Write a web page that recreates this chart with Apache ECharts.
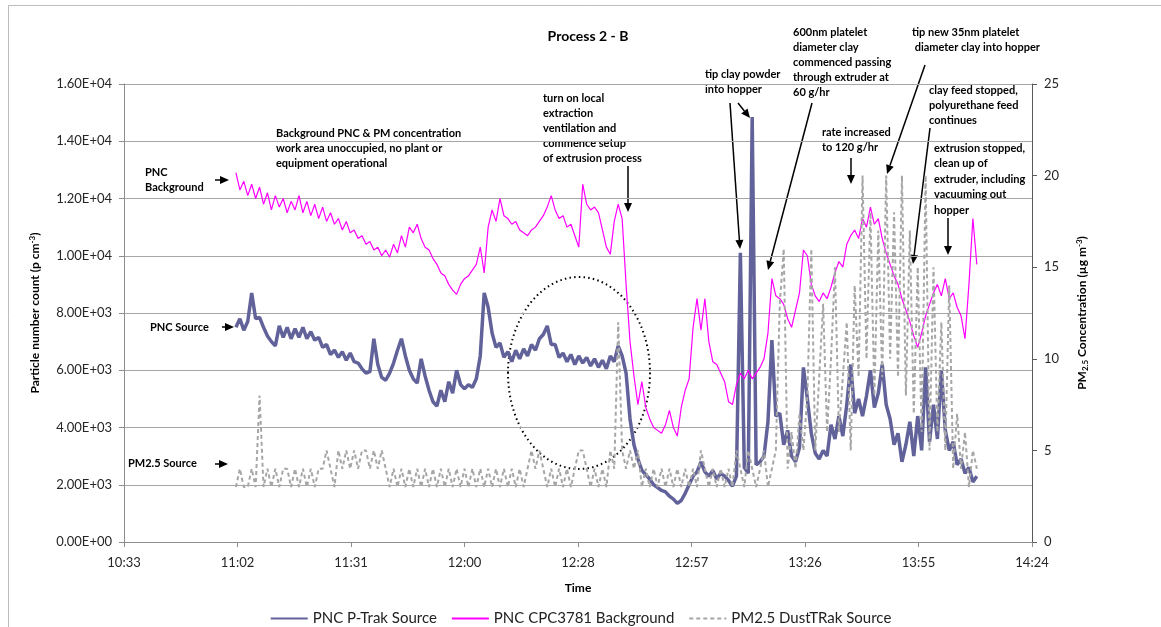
<!DOCTYPE html>
<html><head><meta charset="utf-8">
<script src="https://cdn.jsdelivr.net/npm/echarts@6/dist/echarts.min.js"></script>
<style>html,body{margin:0;padding:0;background:#fff}#c{width:1161px;height:627px}</style>
</head><body><div id="c"></div>
<script>
// ---- data (time in minutes after midnight, 1-minute samples starting at 11:02) ----
const startMinute = 662;
const stepMinutes = 1;
const xTickMin = 633.6, xTickMax = 864, xTickStep = 28.8; // 10:33 ... 14:24
const seriesNames = ['PNC P-Trak Source', 'PNC CPC3781 Background', 'PM2.5 DustTRak Source'];
// PNC P-Trak Source (p cm-3)
const ptrakSource = [
7500,7800,7400,7700,8700,7800,7850,7500,7200,7000,6850,7550,7150,7500,7100,7450,7150,7500,7100,7350,
7050,7150,6800,6900,6550,6700,6450,6650,6350,6600,6300,6250,6050,5900,5950,7100,6200,5750,5650,5900,
6250,6700,7100,6500,6000,5700,5550,6400,5800,5300,4900,4750,5300,4900,5600,5200,6000,5500,5350,5500,
5400,5700,6500,8700,8200,7300,6800,6950,6450,6650,6300,6700,6400,6750,6500,6900,6700,7100,7250,7550,
6900,6900,6450,6600,6300,6550,6200,6500,6250,6450,6150,6400,6100,6350,6050,6500,6300,6850,6500,5900,
4300,3400,2900,2500,2350,2200,2000,1900,1800,1750,1600,1500,1350,1450,1700,2000,2300,2450,2800,2450,
2300,2500,2200,2400,2300,2150,1950,2300,10100,2600,2400,14850,2700,2800,3000,4200,7050,4400,4500,3400,
3900,3000,2800,3300,6100,5000,3800,3100,2900,3200,3000,4100,3600,4400,3700,4800,6200,4500,5000,4400,
5100,6000,4700,5200,6200,4800,4300,3400,3800,2800,3400,4200,3000,4400,3200,6100,3500,4800,3600,6000,
3900,3200,3500,2700,2900,2400,2600,2100,2300
];
// PNC CPC3781 Background (p cm-3)
const cpcBackground = [
12900,12300,12600,12100,12500,12000,12400,11800,12200,11600,12100,11700,12000,11500,11900,11600,12100,11500,11900,11400,
11800,11300,11700,11200,11500,11100,11300,10900,11200,10800,10900,10600,10700,10400,10500,10200,10300,10000,10200,9950,
10400,10100,10700,10300,11000,10800,11100,10600,10300,10200,9900,9700,9400,9300,9000,8800,8650,9000,9200,9300,
9500,9700,10300,9400,11000,11600,11200,12000,11400,11300,11100,11200,10900,10800,10700,10900,11000,11200,11400,11700,
12100,11600,11300,11400,11000,11100,10700,10300,12500,11800,11600,11700,11500,10900,10300,10050,11200,11800,11300,9000,
7000,5800,4800,5600,4700,4300,4000,3900,3800,4100,4600,4000,3700,4700,5300,5700,7500,8500,7400,8500,
7000,6300,6200,5900,5600,4900,4800,5500,5900,5700,6000,5700,5900,6100,6400,7300,9200,8600,8500,8300,
7800,7500,8100,8700,10200,10000,9000,8600,8400,8700,8500,8900,9400,9800,9600,10400,10700,10900,10600,11300,
11000,11700,11100,11300,10600,10100,9700,9300,9000,8500,8100,7700,7200,6800,7300,7900,8300,8700,9000,8600,
9200,8500,8700,8200,7900,7100,9000,11300,9700
];
// PM2.5 DustTRak Source (ug m-3)
const dustTrakPM25 = [
3,4,3,3,4,3,8,3,4,3,4,3,4,4,3,4,3,4,3,4,
3,4,4,5,4,3,5,4,5,4,5,4,5,5,4,5,4,5,4,3,
4,3,4,3,4,3,4,3,4,3,4,3,4,3,4,3,4,3,4,3,
4,3,4,3,4,3,4,3,4,3,4,3,4,3,4,5,4,5,4,3,
4,3,4,3,4,3,4,5,5,4,3,4,3,4,3,5,4,12,5,4,
5,4,5,3,4,3,4,3,4,3,4,3,4,3,4,3,4,3,5,4,
3,4,3,4,3,4,3,5,4,3,5,4,3,4,5,3,4,5,13,16,
4,6,4,7,5,8,16,5,9,13,6,10,15,6,9,12,5,14,9,20,
10,18,8,17,9,20,10,18,9,20,8,17,7,15,6,20,5,15,6,12,
5,14,4,7,4,6,3,5,4
];
const leftTicks = {min: 0, max: 16000, interval: 2000};
const rightTicks = {min: 0, max: 25, interval: 5};

function toPairs(arr){ return arr.map((v,i)=>[startMinute + i*stepMinutes, v]); }
function sci(v){
  if (v === 0) return '0.00E+00';
  const e = Math.floor(Math.log10(v)); const m = v/Math.pow(10,e);
  return m.toFixed(2) + 'E+' + (e<10?'0':'') + e;
}
function hhmm(m){
  const r = Math.round(m*10)/10; const h = Math.floor(r/60); const mm = Math.floor(r - h*60 + 1e-6);
  return h + ':' + (mm<10?'0':'') + mm;
}
function arrow(x1,y1,x2,y2){
  const dx=x2-x1, dy=y2-y1, L=Math.hypot(dx,dy), ux=dx/L, uy=dy/L, hl=9, hw=4;
  const bx=x2-ux*hl, by=y2-uy*hl;
  return [
    {type:'line', silent:true, shape:{x1:x1,y1:y1,x2:bx,y2:by}, style:{stroke:'#000', lineWidth:1.5}},
    {type:'polygon', silent:true, shape:{points:[[x2,y2],[bx-uy*hw,by+ux*hw],[bx+uy*hw,by-ux*hw]]}, style:{fill:'#000'}}
  ];
}
const FONT = 'Lato, "Open Sans", sans-serif';
function note(x, y, text, lh){
  return {type:'text', silent:true, x:x, y:y, style:{text:text, fill:'#000', font:'bold 11px '+FONT, lineHeight:lh||15, textVerticalAlign:'top'}};
}

const graphics = [
  {type:'rect', silent:true, shape:{x:8.5, y:5.5, width:1200, height:700}, style:{fill:'none', stroke:'#bcbcbc', lineWidth:1}},
  {type:'ellipse', silent:true, shape:{cx:579, cy:373, rx:71, ry:96}, style:{fill:'none', stroke:'#000', lineWidth:2, lineDash:[1.5,3.2]}},
  {type:'text', silent:true, x:35, y:313, rotation:Math.PI/2, style:{
    rich:{b:{font:'bold 12px '+FONT, fill:'#000'}, sup:{font:'bold 8px '+FONT, fill:'#000', verticalAlign:'top', padding:[0,0,6,0]}},
    text:'{b|Particle number count (p cm}{sup|-3}{b|)}', align:'center', verticalAlign:'middle'}},
  {type:'text', silent:true, x:1082, y:313, rotation:Math.PI/2, style:{
    rich:{b:{font:'bold 12px '+FONT, fill:'#000'}, sub:{font:'bold 8px '+FONT, fill:'#000', padding:[6,0,0,0]}, sup:{font:'bold 8px '+FONT, fill:'#000', padding:[0,0,6,0]}},
    text:'{b|PM}{sub|2.5}{b| Concentration (µg m}{sup|-3}{b|)}', align:'center', verticalAlign:'middle'}},
  note(145, 164.5, 'PNC\nBackground'),
  note(150, 320, 'PNC Source'),
  note(128, 456, 'PM2.5 Source'),
  note(276, 125.5, 'Background PNC & PM concentration\nwork area unoccupied, no plant or\nequipment operational'),
  note(543, 90.5, 'turn on local\nextraction\nventilation and\ncommence setup\nof extrusion process'),
  note(705, 67.5, 'tip clay powder\ninto hopper', 14.5),
  note(793, 24.5, '600nm platelet\ndiameter clay\ncommenced passing\nthrough extruder at\n60 g/hr'),
  note(822, 124.5, 'rate increased\nto 120 g/hr', 15.5),
  note(912, 24.5, 'tip new 35nm platelet\n diameter clay into hopper'),
  note(929, 82.5, 'clay feed stopped,\npolyurethane feed\ncontinues'),
  note(934, 140.5, 'extrusion stopped,\nclean up of\nextruder, including\nvacuuming out\nhopper', 15.5)
].concat(
  arrow(215,180,229,180), arrow(222,327,234,327), arrow(215,464,228,464),
  arrow(628,166,628,212), arrow(730,103,740,249), arrow(738,103,750,118),
  arrow(812,103,768,270), arrow(851,158,851,184), arrow(925,65,887,174),
  arrow(930,128,913,264), arrow(948,218,948,255)
);

const chart = echarts.init(document.getElementById('c'), null, {renderer:'canvas'});
chart.setOption({
  animation:false,
  backgroundColor:'#fff',
  title:{text:'Process 2 - B', left:583, top:24, textAlign:'center', textStyle:{fontFamily:FONT, fontWeight:'bold', fontSize:14, color:'#000'}},
  grid:{left:124, right:129, top:84, bottom:85},
  legend:{top:606, left:'center', itemWidth:37, itemHeight:10, itemGap:14, itemStyle:{opacity:0},
    textStyle:{fontFamily:FONT, fontSize:15, color:'#222'}, data:seriesNames},
  xAxis:{type:'value', min:xTickMin, max:xTickMax, interval:xTickStep, name:'Time', nameLocation:'middle', nameGap:40,
    nameTextStyle:{fontFamily:FONT, fontWeight:'bold', fontSize:12, color:'#000'},
    axisLine:{lineStyle:{color:'#8c8c8c'}}, axisTick:{show:true, length:5, lineStyle:{color:'#8c8c8c'}},
    axisLabel:{formatter:hhmm, fontFamily:FONT, fontSize:13, color:'#262626', margin:14}, splitLine:{show:false}},
  yAxis:[
    {type:'value', min:leftTicks.min, max:leftTicks.max, interval:leftTicks.interval,
     axisLine:{show:true, lineStyle:{color:'#8c8c8c'}}, axisTick:{show:true, length:5, lineStyle:{color:'#8c8c8c'}},
     axisLabel:{formatter:sci, fontFamily:FONT, fontSize:13, color:'#262626', margin:12},
     splitLine:{show:true, lineStyle:{color:'#a6a6a6', width:1}}},
    {type:'value', min:rightTicks.min, max:rightTicks.max, interval:rightTicks.interval, position:'right',
     axisLine:{show:true, lineStyle:{color:'#595959'}}, axisTick:{show:true, length:5, lineStyle:{color:'#595959'}},
     axisLabel:{fontFamily:FONT, fontSize:13, color:'#262626', margin:12}, splitLine:{show:false}}
  ],
  series:[
    {name:seriesNames[0], type:'line', yAxisIndex:0, data:toPairs(ptrakSource), showSymbol:false, symbol:'none',
     lineStyle:{color:'#62629a', width:3.5}, itemStyle:{color:'#62629a'}, z:2},
    {name:seriesNames[1], type:'line', yAxisIndex:0, data:toPairs(cpcBackground), showSymbol:false, symbol:'none',
     lineStyle:{color:'#ff00ff', width:1.2}, itemStyle:{color:'#ff00ff'}, z:3},
    {name:seriesNames[2], type:'line', yAxisIndex:1, data:toPairs(dustTrakPM25), showSymbol:false, symbol:'none',
     lineStyle:{color:'#a6a6a6', width:2, type:[4,3]}, itemStyle:{color:'#a6a6a6'}, z:4}
  ],
  graphic:graphics
});
</script></body></html>
